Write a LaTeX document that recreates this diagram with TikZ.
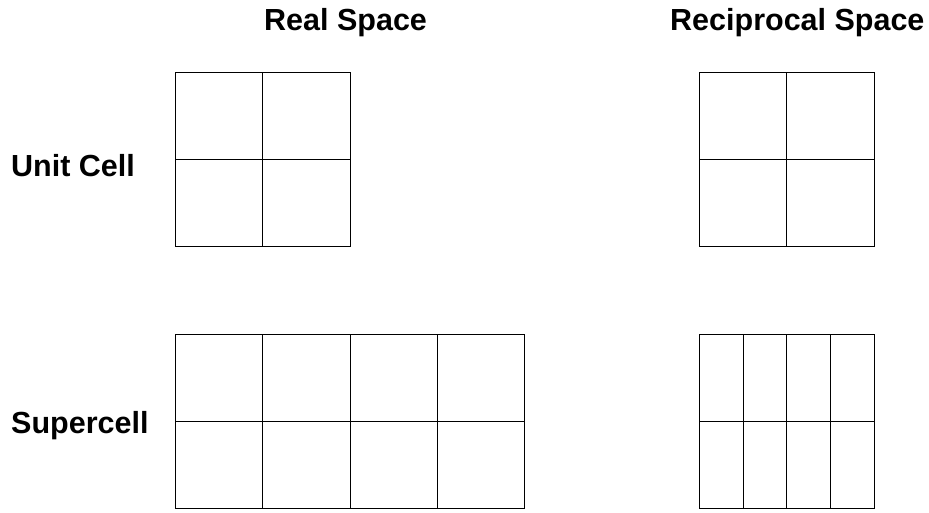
\documentclass[tikz,border=0pt]{standalone}
\usepackage{fontspec}
\setmainfont{Liberation Sans}
\begin{document}
\begin{tikzpicture}[x=1pt,y=-1pt,
  lbl/.style={inner sep=0pt,anchor=base west,font=\fontsize{30.5}{36}\selectfont\bfseries},
  cellline/.style={line width=0.9pt,black}]
\useasboundingbox (0,0) rectangle (929,512);
% labels
\node[lbl] (real) at (264,30) {Real Space};
\node[lbl] (recip) at (670,30) {Reciprocal Space};
\node[lbl] (unit) at (11,176) {Unit Cell};
\node[lbl] (super) at (11,433) {Supercell};
% real space unit cell
\draw[cellline] (175,72) rectangle (350,246);
\draw[cellline] (262.5,72) -- (262.5,246);
\draw[cellline] (175,159) -- (350,159);
% real space supercell
\draw[cellline] (175,334) rectangle (524,508);
\foreach \x in {262.5,350,437}
  \draw[cellline] (\x,334) -- (\x,508);
\draw[cellline] (175,421) -- (524,421);
% reciprocal unit cell
\draw[cellline] (699,72) rectangle (874,246);
\draw[cellline] (786.5,72) -- (786.5,246);
\draw[cellline] (699,159) -- (874,159);
% reciprocal supercell
\draw[cellline] (699,334) rectangle (874,508);
\foreach \x in {743,786.5,830}
  \draw[cellline] (\x,334) -- (\x,508);
\draw[cellline] (699,421) -- (874,421);
\end{tikzpicture}
\end{document}
